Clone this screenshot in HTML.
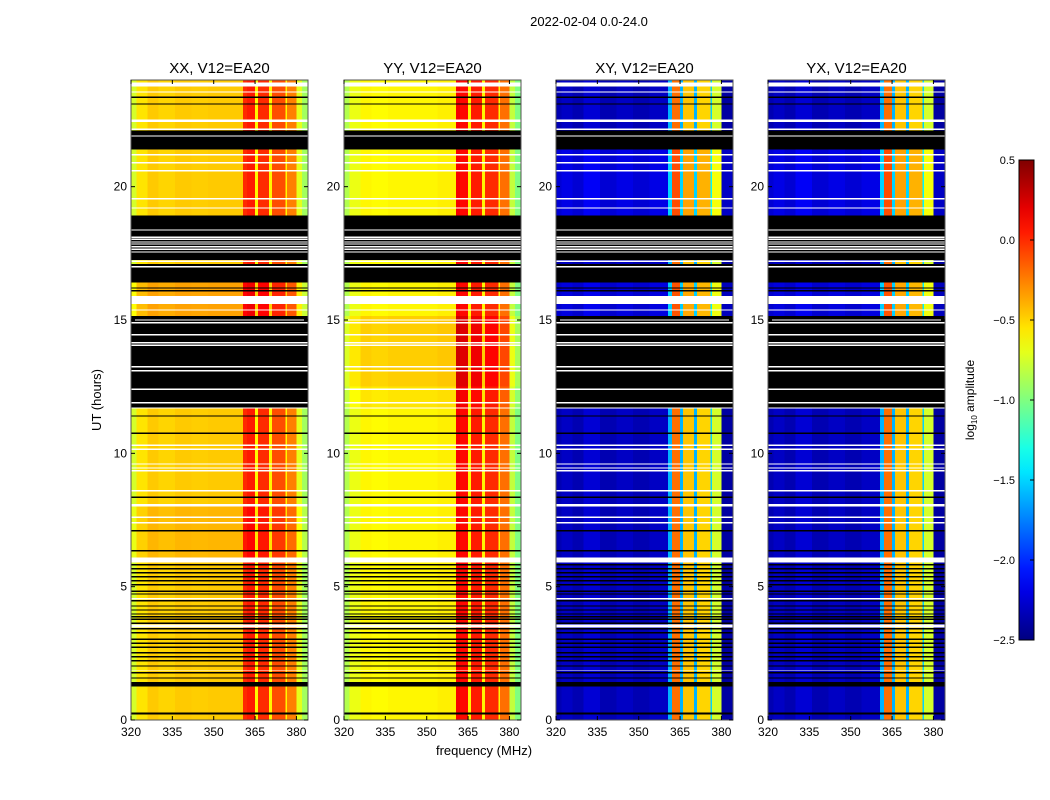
<!DOCTYPE html>
<html><head><meta charset="utf-8">
<style>
body{margin:0;background:#fff;}
svg{display:block;font-family:"Liberation Sans","DejaVu Sans",sans-serif;}
</style></head>
<body>
<svg id="fig" width="1050" height="800" viewBox="0 0 1050 800" xmlns="http://www.w3.org/2000/svg">
<rect x="0" y="0" width="1050" height="800" fill="#fff"/>
<text x="589" y="26" font-size="13" text-anchor="middle">2022-02-04 0.0-24.0</text>
<text transform="translate(101,400) rotate(-90)" font-size="13" text-anchor="middle">UT (hours)</text>
<text x="484" y="755" font-size="13" text-anchor="middle">frequency (MHz)</text>
<g id="panels"></g>
<g id="cbar"></g>
</svg>
<script>
// ---- data ----
const panelTitles = ["XX, V12=EA20","YY, V12=EA20","XY, V12=EA20","YX, V12=EA20"];
const freqEdges = [320,322,326,330,336,342,348,354,360.7,362,365,366,370,371.2,376,376.6,380,382,384.2];
const ampXX = [-0.75,-0.55,-0.47,-0.5,-0.47,-0.48,-0.47,-0.47,0.0,0.05,-0.6,0.0,-0.6,-0.1,-0.6,-0.25,-0.7,-0.9];
const ampYY = [-0.85,-0.68,-0.6,-0.62,-0.6,-0.6,-0.6,-0.58,0.15,0.1,-0.6,0.05,-0.6,0.0,-0.6,-0.2,-0.8,-1.0];
const ampXY = [-2.35,-2.3,-2.35,-2.25,-2.35,-2.3,-2.35,-2.3,-1.6,-0.2,-1.6,-0.45,-1.6,-0.5,-1.5,-0.75,-2.4,-2.4];
const ampYX = [-2.35,-2.3,-2.35,-2.25,-2.35,-2.3,-2.35,-2.3,-1.6,-0.2,-1.6,-0.45,-1.6,-0.5,-1.5,-0.75,-2.4,-2.4];
// flagged (black) time intervals, hours
const blackIntervals = [[0.2,0.28],[1.25,1.42],[6.33,6.38],[7.08,7.13],[8.33,8.38],[10.73,10.78],[11.38,11.43],
 [11.7,15.15],[16.4,17.1],[17.25,18.93],[16.18,16.23],[16.08,16.12],[21.4,22.1],[23.33,23.37],[23.08,23.12]];
const blackLines = [1.55,1.75,2.0,2.2,2.35,2.5,2.7,2.85,3.0,3.25,3.4,3.6,3.75,3.85,3.95,4.1,4.25,4.45,4.7,4.8,5.05,5.2,5.35,5.5,5.65,5.8];
const whiteIntervals = [[1.84,1.88],[3.48,3.57],[4.53,4.57],[5.9,6.1],[7.38,7.42],[7.58,7.62],[8.0,8.1],[8.58,8.62],[9.33,9.37],[9.43,9.47],[9.58,9.62],
 [10.13,10.17],[10.28,10.32],[11.68,11.72],[11.88,11.92],[12.38,12.42],[13.08,13.12],[13.23,13.27],[14.03,14.07],[14.13,14.17],[14.43,14.47],[14.88,14.92],[14.98,15.02],
 [15.35,15.39],[15.6,15.9],[16.98,17.02],[17.18,17.22],[17.53,17.57],[17.63,17.67],[17.73,17.77],[17.83,17.87],[17.91,17.95],[18.01,18.05],[18.08,18.12],[18.35,18.39],
 [19.18,19.22],[19.53,19.57],[20.58,20.62],[20.88,20.92],[21.18,21.22],[21.88,21.92],[22.13,22.17],[22.43,22.52],[23.53,23.57],[23.75,23.9]];
// YY has valid data inside this interval
const yyValid = [11.7,15.15];
// amplitude offsets for time regions [start,end,offset]
const regionOffsetXX = [[15.15,16.4,0.12],[6.1,8.0,0.06]];
const regionOffsetYY = [[12.5,15.15,0.12],[11.7,12.5,0.05]];
const regionOffsetXY = [[18.93,21.4,0.1],[15.15,16.4,0.08]];
const cbTicks = [0.5,0.0,-0.5,-1.0,-1.5,-2.0,-2.5];
const xTicks = [320,335,350,365,380];
const yTicks = [0,5,10,15,20];

// ---- layout ----
const panelX = [131,344,556,768], PW = 177, PT = 80, PB = 720;
const fMin = 320, fMax = 384.2, tMax = 24, vmin = -2.5, vmax = 0.5;
const NS = "http://www.w3.org/2000/svg";
function xs(px,f){return px + (f-fMin)/(fMax-fMin)*PW;}
function ys(h){return PB - h/tMax*(PB-PT);}
function jet(v){
  let t = Math.max(0,Math.min(1,(v-vmin)/(vmax-vmin)));
  const c = x=>Math.max(0,Math.min(1,x));
  const r = c(1.5-Math.abs(4*t-3)), g = c(1.5-Math.abs(4*t-2)), b = c(1.5-Math.abs(4*t-1));
  return `rgb(${Math.round(r*255)},${Math.round(g*255)},${Math.round(b*255)})`;
}
function mk(tag,attrs,parent){const e=document.createElementNS(NS,tag);for(const k in attrs)e.setAttribute(k,attrs[k]);parent.appendChild(e);return e;}
const amps = [ampXX,ampYY,ampXY,ampYX];
const offs = [regionOffsetXX,regionOffsetYY,regionOffsetXY,regionOffsetXY];
const DT = 0.025;
function kindAt(p,h){
  for(const w of whiteIntervals) if(h>=w[0]&&h<w[1]) return 'w';
  if(p===1 && h>=yyValid[0] && h<yyValid[1]) return 'd';
  for(const b of blackIntervals) if(h>=b[0]&&h<b[1]) return 'k';
  for(const l of blackLines) if(h>=l&&h<l+0.05) return 'k';
  return 'd';
}
function offAt(p,h){let o=0;for(const r of offs[p]) if(h>=r[0]&&h<r[1]) o+=r[2];return o;}
const panelsG = document.getElementById('panels');
for(let p=0;p<4;p++){
  const px = panelX[p];
  const g = mk('g',{},panelsG);
  
  
  const hm = mk('g',{'shape-rendering':'crispEdges'},g);
  
  
  const N = Math.round(tMax/DT);
  let runs=[], cur=null;
  for(let i=0;i<N;i++){
    const h=i*DT+DT/2; const k=kindAt(p,h); const o=k==='d'?offAt(p,h):0;
    const key=k+o;
    if(cur&&cur.key===key){cur.e=(i+1)*DT;} else {cur={key,k,o,s:i*DT,e:(i+1)*DT};runs.push(cur);}
  }
  for(const r of runs){
    const y1=ys(r.e), y2=ys(r.s);
    if(r.k!=='d'){
      const rc=mk('rect',{x:px,y:y1.toFixed(2),width:PW,height:(y2-y1).toFixed(2),fill:r.k==='k'?'#000':'#fff'},hm);
      
      
    } else {
      for(let b=0;b<freqEdges.length-1;b++){
        const x1=xs(px,freqEdges[b]), x2=xs(px,freqEdges[b+1]);
        const rc=mk('rect',{x:x1.toFixed(2),y:y1.toFixed(2),width:(x2-x1+0.3).toFixed(2),height:(y2-y1).toFixed(2),fill:jet(amps[p][b]+r.o)},hm);
        
        
      }
    }
  }
  const fr=mk('rect',{x:px,y:PT,width:PW,height:PB-PT,fill:'none',stroke:'#555','stroke-width':1},g);
  
  
  const t=mk('text',{x:px+PW/2,y:PT-7,'font-size':15,'text-anchor':'middle'},g);
  t.textContent=panelTitles[p];
  
  
  for(const f of xTicks){
    const x=xs(px,f);
    mk('line',{x1:x,x2:x,y1:PB,y2:PB-4,stroke:'#000'},g);
    mk('line',{x1:x,x2:x,y1:PT,y2:PT+4,stroke:'#000'},g);
    const tl=mk('text',{x:x,y:PB+16,'font-size':12,'text-anchor':'middle'},g);
    tl.textContent=f;
    
    
  }
  for(const h of yTicks){
    const y=ys(h);
    mk('line',{x1:px,x2:px+4,y1:y,y2:y,stroke:'#000'},g);
    mk('line',{x1:px+PW,x2:px+PW-4,y1:y,y2:y,stroke:'#000'},g);
    const tl=mk('text',{x:px-4,y:y+4,'font-size':12,'text-anchor':'end'},g);
    tl.textContent=h;
    
    
  }
}
// colorbar
const cb=document.getElementById('cbar');


const CX=1019,CW=15,CT=160,CB=640;
const defs=mk('defs',{},cb);
const grad=mk('linearGradient',{id:'jetg',x1:0,y1:1,x2:0,y2:0},defs);
for(let i=0;i<=20;i++){mk('stop',{offset:i/20,'stop-color':jet(vmin+(vmax-vmin)*i/20)},grad);}
const cr=mk('rect',{x:CX,y:CT,width:CW,height:CB-CT,fill:'url(#jetg)',stroke:'#000','stroke-width':1},cb);


for(const v of cbTicks){
  const y=CB-(v-vmin)/(vmax-vmin)*(CB-CT);
  mk('line',{x1:CX+CW,x2:CX+CW-4,y1:y,y2:y,stroke:'#000'},cb);
  const tl=mk('text',{x:CX-4,y:y+4,'font-size':11,'text-anchor':'end'},cb);
  tl.textContent=(v<0?'\u2212':'')+Math.abs(v).toFixed(1);
  
  
}
const cl=mk('text',{transform:'translate(974,400) rotate(-90)','font-size':12,'text-anchor':'middle'},cb);
cl.innerHTML='log<tspan font-size="8" dy="3">10</tspan><tspan dy="-3"> amplitude</tspan>';


</script>
</body></html>
